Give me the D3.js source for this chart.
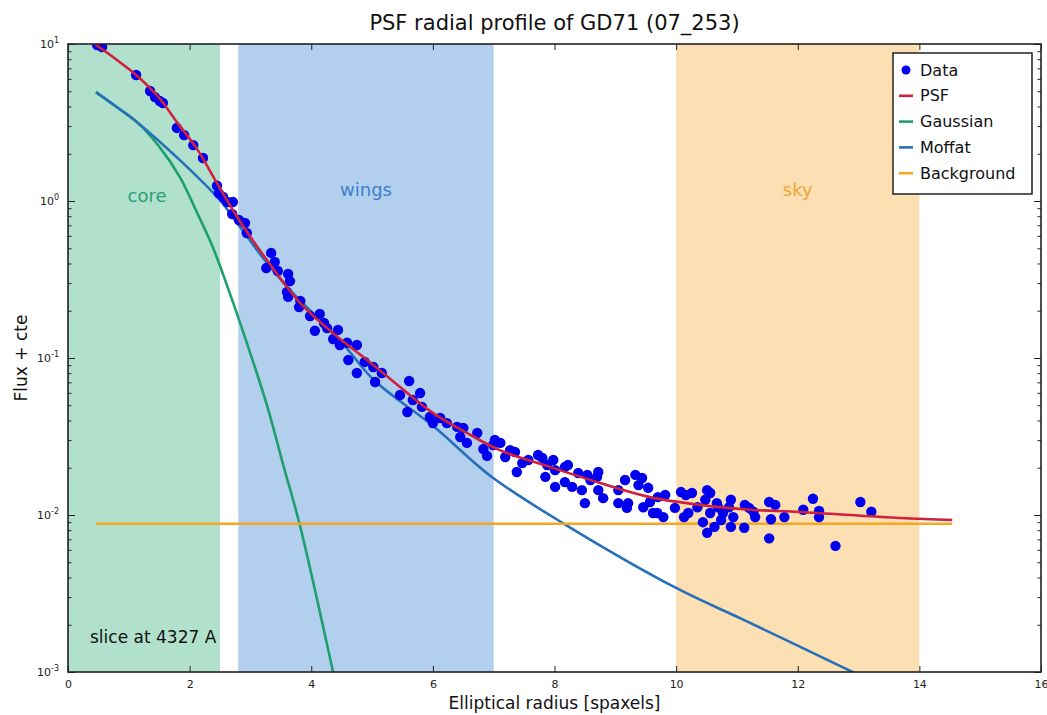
<!DOCTYPE html>
<html><head><meta charset="utf-8">
<script src="https://cdn.jsdelivr.net/npm/d3@7"></script>
<style>body{margin:0;background:#fff;}svg{display:block;font-family:"DejaVu Sans",sans-serif;}</style>
</head><body><svg id="c" width="1047" height="715"></svg>
<script>
// ---- data ----
const dataR = [0.48,0.56,1.12,1.35,1.43,1.51,1.56,1.79,1.91,2.06,2.22,2.45,2.48,2.55,2.62,2.71,2.70,2.81,2.91,2.94,
3.34,3.40,3.26,3.45,3.62,3.65,3.60,3.62,3.82,3.80,3.98,4.14,4.21,4.06,4.26,4.44,4.36,4.47,4.59,4.75,4.61,4.75,4.88,5.02,5.05,5.16,5.46,5.61,5.67,5.79,5.58,5.82,5.95,6.00,6.12,6.23,6.40,6.50,6.45,6.56,6.73,6.83,6.89,7.02,7.11,6.99,
7.27,7.35,7.19,7.38,7.47,7.57,7.73,7.80,7.88,7.85,7.98,8.01,8.01,8.17,8.22,8.17,8.39,8.45,8.54,8.59,8.70,8.72,8.50,8.72,8.80,9.05,9.05,9.16,9.21,9.33,9.38,9.44,9.54,9.46,9.57,9.62,9.70,9.79,9.82,9.98,8.29,9.19,9.69,
10.08,10.16,10.20,10.13,10.35,10.51,10.56,10.48,10.56,10.44,10.69,10.63,10.51,10.74,10.90,10.87,10.94,10.90,11.12,11.13,11.20,11.27,11.30,11.53,11.63,11.56,11.78,11.53,12.09,12.25,12.35,12.35,12.62,13.03,13.21,10.67,10.77,10.26];
const dataFlux = [9.86,9.57,6.35,5.02,4.59,4.33,4.21,2.92,2.63,2.27,1.88,1.25,1.12,1.06,0.986,0.986,0.826,0.757,0.724,0.625,
0.467,0.409,0.374,0.358,0.343,0.309,0.263,0.245,0.231,0.211,0.185,0.191,0.167,0.149,0.155,0.151,0.132,0.121,0.125,0.121,0.0971,0.0802,0.0944,0.0877,0.0703,0.0802,0.0581,0.0714,0.0540,0.0598,0.0453,0.0488,0.0421,0.0385,0.0415,0.0385,0.0364,0.0358,0.0314,0.0288,0.0333,0.0263,0.0238,0.0301,0.0288,0.0279,
0.0259,0.0252,0.0234,0.0188,0.0214,0.0224,0.0241,0.0231,0.0208,0.0175,0.0224,0.0193,0.0151,0.0202,0.0208,0.0162,0.0185,0.0144,0.0180,0.0167,0.0175,0.0188,0.0119,0.0144,0.0128,0.0144,0.0119,0.0167,0.0119,0.0180,0.0155,0.0172,0.0149,0.0112,0.0121,0.0103,0.0130,0.0097,0.0134,0.0111,0.0151,0.0111,0.0103,
0.0140,0.0134,0.0103,0.0097,0.0112,0.0144,0.0138,0.0125,0.0103,0.0090,0.0112,0.0084,0.0077,0.0093,0.0125,0.0112,0.0097,0.0084,0.0083,0.0116,0.0111,0.0105,0.0097,0.0121,0.0116,0.0094,0.0097,0.0071,0.0108,0.0127,0.0106,0.0097,0.00636,0.0121,0.0105,0.0119,0.0103,0.0138];

const psfR    = [0.39,0.74,1.13,1.5,1.79,2.11,2.45,2.71,2.99,3.27,3.82,4.36,4.92,5.46,6.0,6.56,7.1,7.93,8.75,9.57,10.39,11.22,12.04,13.68,14.54];
const psfFlux = [10.3,8.26,6.3,4.53,3.18,2.18,1.30,0.877,0.598,0.421,0.224,0.144,0.097,0.0653,0.0447,0.0333,0.0259,0.0202,0.016,0.013,0.0116,0.0108,0.01045,0.00957,0.0093];

const gaussR    = [0.46,0.8,1.13,1.5,1.84,2.1,2.38,2.66,2.94,3.27,3.54,3.82,4.36,4.45];
const gaussFlux = [4.94,3.97,3.19,2.22,1.42,0.88,0.509,0.259,0.125,0.0502,0.0208,0.0084,0.001,0.0007];

const moffatR    = [0.46,0.8,1.13,1.84,2.5,2.83,3.27,3.7,4.47,5.03,6.0,6.97,8.19,10.0,11.12,12.88,13.1];
const moffatFlux = [4.94,3.97,3.19,1.82,1.01,0.683,0.403,0.259,0.130,0.0724,0.037,0.01746,0.00863,0.00343,0.00214,0.00101,0.00092];

const bgR    = [0.46,14.54];
const bgFlux = [0.0088,0.0088];

const bands = [
  {name:"core",  x0:0,   x1:2.5, fill:"#b1e1cd", text:"#2a9e74", lx:1.3, ly:0.99},
  {name:"wings", x0:2.8, x1:7.0, fill:"#b3cfee", text:"#3a80c8", lx:4.9, ly:1.07},
  {name:"sky",   x0:10,  x1:14,  fill:"#fcdfb3", text:"#f2a530", lx:12.0, ly:1.07}
];
const xTicks = [0,2,4,6,8,10,12,14,16];
const yTicks = [1e-3,1e-2,1e-1,1,10];
const yExps  = ["-3","-2","-1","0","1"];

const series = [
  {name:"PSF",        R:psfR,    F:psfFlux,    color:"#d0203c"},
  {name:"Gaussian",   R:gaussR,  F:gaussFlux,  color:"#1f9e6e"},
  {name:"Moffat",     R:moffatR, F:moffatFlux, color:"#2670bb"},
  {name:"Background", R:bgR,     F:bgFlux,     color:"#f5a623"}
];
const dotColor = "#0000ee";

// ---- layout ----
const L=68, R=1041, T=44, B=672;
const svg = d3.select("#c");
const x = d3.scaleLinear().domain([0,16]).range([L,R]);
const y = d3.scaleLog().domain([1e-3,10]).range([B,T]);

svg.append("defs").append("clipPath").attr("id","clip")
  .append("rect").attr("x",L).attr("y",T).attr("width",R-L).attr("height",B-T);

const plot = svg.append("g").attr("clip-path","url(#clip)");

// bands
plot.selectAll("rect.band").data(bands).enter().append("rect")
  .attr("x",d=>x(d.x0)).attr("y",T).attr("width",d=>x(d.x1)-x(d.x0)).attr("height",B-T)
  .attr("fill",d=>d.fill);

// band labels
svg.selectAll("text.blab").data(bands).enter().append("text")
  .attr("x",d=>x(d.lx)).attr("y",d=>y(d.ly)).attr("text-anchor","middle")
  .attr("font-size",18).attr("fill",d=>d.text).text(d=>d.name);

// curves
const line = d3.line().x(d=>x(d[0])).y(d=>y(d[1])).curve(d3.curveCatmullRom.alpha(0.5));
const drawOrder = ["Gaussian","Moffat","Background"];
drawOrder.forEach(n=>{
  const s = series.find(d=>d.name===n);
  plot.append("path").datum(d3.zip(s.R,s.F)).attr("d",line)
    .attr("fill","none").attr("stroke",s.color).attr("stroke-width",2.6);
});

// data points
const pts = d3.zip(dataR,dataFlux);
plot.selectAll("circle.pt").data(pts).enter().append("circle")
  .attr("cx",d=>x(d[0])).attr("cy",d=>y(d[1])).attr("r",5.2).attr("fill",dotColor);

{
  const s = series.find(d=>d.name==="PSF");
  plot.append("path").datum(d3.zip(s.R,s.F)).attr("d",line)
    .attr("fill","none").attr("stroke",s.color).attr("stroke-width",2.6);
}

// axes (ticks inward)
const axisColor="#222";
const gx = svg.append("g").attr("transform",`translate(0,${B})`)
  .call(d3.axisBottom(x).tickValues(xTicks).tickSize(-6).tickPadding(8).tickFormat(d3.format("d")));
const gxt = svg.append("g").attr("transform",`translate(0,${T})`)
  .call(d3.axisTop(x).tickValues(xTicks).tickSize(-6).tickFormat(""));
const minor = [];
for (let e=-3;e<1;e++) for (let m=2;m<10;m++) minor.push(m*Math.pow(10,e));
const gy = svg.append("g").attr("transform",`translate(${L},0)`)
  .call(d3.axisLeft(y).tickValues(yTicks).tickSize(-7).tickFormat(""));
const gym = svg.append("g").attr("transform",`translate(${L},0)`)
  .call(d3.axisLeft(y).tickValues(minor).tickSize(-3.5).tickFormat(""));
const gyr = svg.append("g").attr("transform",`translate(${R},0)`)
  .call(d3.axisRight(y).tickValues(yTicks).tickSize(-7).tickFormat(""));
const gyrm = svg.append("g").attr("transform",`translate(${R},0)`)
  .call(d3.axisRight(y).tickValues(minor).tickSize(-3.5).tickFormat(""));
[gx,gxt,gy,gym,gyr,gyrm].forEach(g=>{
  g.select(".domain").remove();
  g.selectAll(".tick line").attr("stroke",axisColor).attr("stroke-width",1);
});
gx.selectAll(".tick text").attr("font-size",11).attr("fill","#222").attr("font-family","DejaVu Sans");

// y tick labels with superscripts
const ylab = svg.append("g");
yTicks.forEach((v,i)=>{
  const t = ylab.append("text").attr("x",L-9).attr("y",y(v)+4).attr("text-anchor","end")
    .attr("font-size",11).attr("fill","#222");
  t.append("tspan").text("10");
  t.append("tspan").attr("dy",-5).attr("font-size",8).text(yExps[i]);
});

// frame
svg.append("rect").attr("x",L).attr("y",T).attr("width",R-L).attr("height",B-T)
  .attr("fill","none").attr("stroke","#222").attr("stroke-width",1.6);

// title and axis labels
svg.append("text").attr("x",(L+R)/2).attr("y",30).attr("text-anchor","middle")
  .attr("font-size",21).attr("fill","#111").text("PSF radial profile of GD71 (07_253)");
svg.append("text").attr("x",(L+R)/2).attr("y",709).attr("text-anchor","middle")
  .attr("font-size",17).attr("fill","#111").text("Elliptical radius [spaxels]");
svg.append("text").attr("transform",`translate(27,${(T+B)/2}) rotate(-90)`).attr("text-anchor","middle")
  .attr("font-size",17).attr("fill","#111").text("Flux + cte");

svg.append("text").attr("x",90).attr("y",643).attr("font-size",17).attr("fill","#111").text("slice at 4327 A");

// legend
const lg = svg.append("g");
lg.append("rect").attr("x",893).attr("y",53).attr("width",139).attr("height",141)
  .attr("fill","#fff").attr("stroke","#222").attr("stroke-width",1.5);
const legendItems = [{name:"Data",type:"dot",color:dotColor}].concat(series.map(s=>({name:s.name,type:"line",color:s.color})));
legendItems.forEach((d,i)=>{
  const cy = 70 + i*25.8;
  if (d.type==="dot") lg.append("circle").attr("cx",906).attr("cy",cy).attr("r",4.5).attr("fill",d.color);
  else lg.append("line").attr("x1",899).attr("x2",913).attr("y1",cy).attr("y2",cy).attr("stroke",d.color).attr("stroke-width",2.6);
  lg.append("text").attr("x",920).attr("y",cy+5.5).attr("font-size",16).attr("fill","#111").text(d.name);
});
</script></body></html>
